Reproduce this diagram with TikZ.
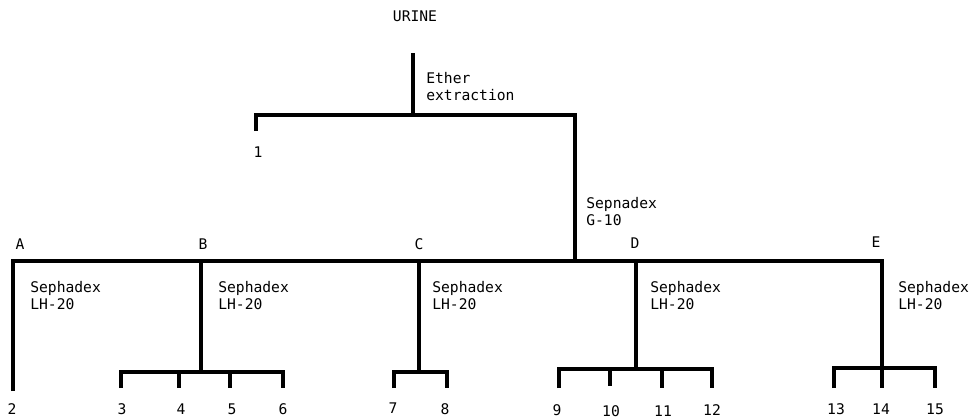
\documentclass[tikz,border=0pt]{standalone}
\usepackage{fontspec}
\setmonofont{DejaVu Sans Mono}
\begin{document}
\begin{tikzpicture}[x=0.75pt,y=-0.75pt,
  lbl/.style={font=\ttfamily\fontsize{11}{12.75}\selectfont, inner sep=0pt},
  note/.style={lbl, align=left, anchor=base west},
  bar/.style={line width=2.8pt, line join=miter, line cap=butt}]
\useasboundingbox (0,0) rectangle (970,419);

% texts (base anchor = baseline of last line)
\node[lbl, anchor=base] (urine) at (415,21) {URINE};
\node[note] (ether) at (426,100) {Ether\\extraction};
\node[lbl, anchor=base] (f1) at (258,157) {1};
\node[note] (g10) at (586,225) {Sepnadex\\G-10};
\node[lbl, anchor=base] (lA) at (20,249) {A};
\node[lbl, anchor=base] (lB) at (203,249) {B};
\node[lbl, anchor=base] (lC) at (419,249) {C};
\node[lbl, anchor=base] (lD) at (635,248) {D};
\node[lbl, anchor=base] (lE) at (876,247) {E};
\node[note] (sA) at (30,309) {Sephadex\\LH-20};
\node[note] (sB) at (218,309) {Sephadex\\LH-20};
\node[note] (sC) at (432,309) {Sephadex\\LH-20};
\node[note] (sD) at (650,309) {Sephadex\\LH-20};
\node[note] (sE) at (898,309) {Sephadex\\LH-20};
% leaf labels
\foreach \n/\x/\y in {2/12/414,3/122/414,4/181/414,5/232/414,6/283/414,7/393/413,8/445/414,9/557/415,10/611/416,11/663/416,12/712/415,13/836/414,14/881/414,15/935/414}
  \node[lbl, anchor=base] (n\n) at (\x,\y) {\n};

% junction coordinates
\coordinate (top) at (413,53);
\coordinate (j1) at (413,115);
\coordinate (l1) at (256,115);
\coordinate (l1e) at (256,131);
\coordinate (r1) at (575,115);
\coordinate (j2) at (575,261);
\coordinate (mA) at (13,261);
\coordinate (mA2) at (13,391);
\coordinate (mB) at (201,261);
\coordinate (mC) at (419,261);
\coordinate (mD) at (636,261);
\coordinate (mE) at (882,261);
\coordinate (bB) at (201,372);
\coordinate (bC) at (419,372);
\coordinate (bD) at (636,369);
\coordinate (bE) at (882,368);

% top
\draw[bar] (top) -- (j1);
\draw[bar] (l1e) -- (l1) -- (r1) -- (j2);
% main bar
\draw[bar] (mA2) -- (mA) -- (mE) -- (bE);
\draw[bar] (mB) -- (bB);
\draw[bar] (mC) -- (bC);
\draw[bar] (mD) -- (bD);

% B group
\draw[bar] (121,388) -- (121,372) -- (283,372) -- (283,388);
\draw[bar] (179,372) -- (179,388);
\draw[bar] (230,372) -- (230,388);
% C group
\draw[bar] (394,388) -- (394,372) -- (447,372) -- (447,388);
% D group
\draw[bar] (559,388) -- (559,369) -- (712,369) -- (712,388);
\draw[bar] (610,369) -- (610,386);
\draw[bar] (662,369) -- (662,388);
% E group
\draw[bar] (834,388) -- (834,368) -- (935,368) -- (935,388);
\draw[bar] (bE) -- (882,388);
\end{tikzpicture}
\end{document}
